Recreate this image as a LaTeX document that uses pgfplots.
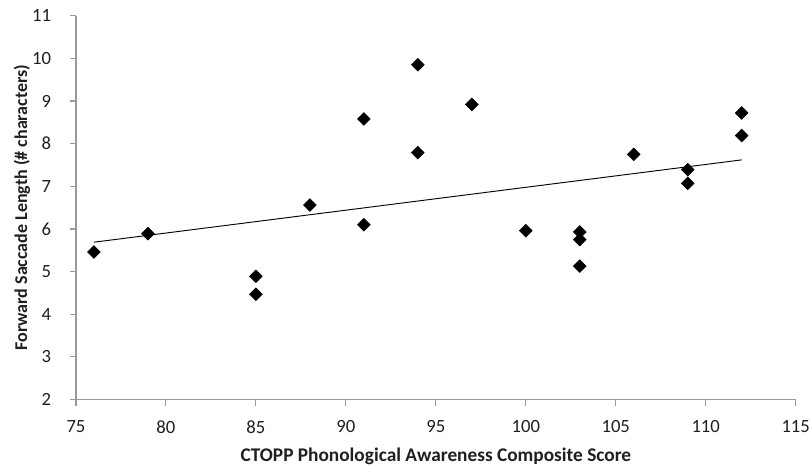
\documentclass[border=0pt]{standalone}
\usepackage{fontspec}
\setmainfont{Carlito}
\usepackage{pgfplots}
\pgfplotsset{compat=1.18}
\definecolor{axisgray}{HTML}{9A9A9A}

\begin{document}
\begin{tikzpicture}
\begin{axis}[
  scale only axis,
  width=540pt, height=288pt,
  xmin=75, xmax=115, ymin=2, ymax=11,
  xtick distance=5, ytick distance=1,
  axis x line=bottom, axis y line=left,
  axis line style={-, axisgray, line width=0.8pt},
  tick style={axisgray, line width=0.8pt},
  tick align=outside,
  major tick length=4.5pt,
  /pgf/number format/assume math mode=true,
  tick label style={font=\fontsize{14}{16}\selectfont, text=black!88},
  xticklabel shift=7.6pt,
  yticklabel style={xshift=-10.6pt},
  xlabel={CTOPP Phonological Awareness Composite Score},
  ylabel={Forward Saccade Length (\# characters)},
  xlabel style={font=\fontsize{14.5}{17}\selectfont\bfseries, text=black!88,
    at={(axis description cs:0.5,0)}, anchor=center, yshift=-42.75pt},
  ylabel style={font=\fontsize{13.5}{16}\selectfont\bfseries, text=black!88,
    at={(axis description cs:0,0.5)}, anchor=center, yshift=40.5pt},
  clip=false,
]
% scores vs forward saccade length
\addplot[only marks, mark=square*, mark size=3.4pt,
  mark options={rotate=45, fill=black, draw=black}] coordinates {
  (76,5.46) (79,5.89) (85,4.89) (85,4.47) (88,6.56)
  (91,8.58) (91,6.10) (94,9.85) (94,7.79) (97,8.92)
  (100,5.96) (103,5.93) (103,5.75) (103,5.13) (106,7.75)
  (109,7.39) (109,7.07) (112,8.72) (112,8.19)
};
% linear trend line
\addplot[black, line width=0.7pt] coordinates {(76,5.69) (112,7.62)};
\end{axis}
\pgfresetboundingbox
\path (current axis.south west) ++(-57pt,-49.5pt) coordinate (bl);
\path (current axis.north east) ++(11.5pt,11.8pt) coordinate (tr);
\useasboundingbox (bl) rectangle (tr);
\end{tikzpicture}
\end{document}
